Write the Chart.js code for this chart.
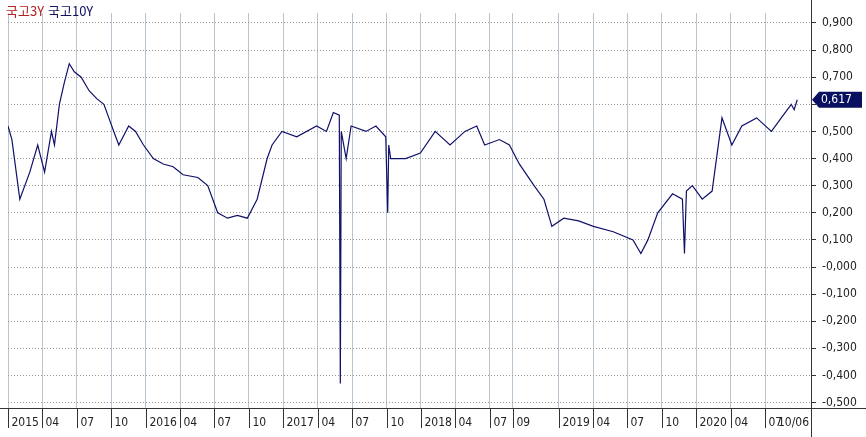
<!DOCTYPE html>
<html><head><meta charset="utf-8">
<script src="https://cdn.jsdelivr.net/npm/chart.js"></script>
<style>body{margin:0;background:#fff}#wrap{width:866px;height:437px}</style>
</head><body><div id="wrap"><canvas id="c"></canvas></div>
<script>
// 월 인덱스 (0 = 2015-01)
const months = [0,0.34,1.03,1.9,2.59,3.19,3.79,4.05,4.48,4.91,5.34,5.78,6.38,7.07,7.76,8.36,8.79,9.22,9.66,10.52,11.12,11.81,12.67,13.53,14.4,15.26,16.55,17.41,18.28,19.14,20,20.86,21.72,22.59,23.02,23.88,25.17,26.9,27.76,28.36,28.88,28.97,29.05,29.48,29.91,31.21,32.07,32.93,33.1,33.19,33.36,34.66,35.95,37.24,38.53,39.83,40.86,41.55,42.84,43.71,44.57,45.86,46.72,47.41,48.45,49.74,51.03,52.76,54.48,55.17,55.78,56.64,57.93,58.79,58.97,59.14,59.66,60.52,61.38,62.24,63.1,63.97,65.26,66.55,67.41,68.28,68.53,68.8];
const yield10 = [0.52,0.47,0.25,0.35,0.45,0.35,0.5,0.45,0.6,0.68,0.75,0.72,0.7,0.65,0.62,0.6,0.55,0.5,0.45,0.52,0.5,0.45,0.4,0.38,0.37,0.34,0.33,0.3,0.2,0.18,0.19,0.18,0.25,0.4,0.45,0.5,0.48,0.52,0.5,0.57,0.56,-0.43,0.5,0.4,0.52,0.5,0.52,0.48,0.2,0.45,0.4,0.4,0.42,0.5,0.45,0.5,0.52,0.45,0.47,0.45,0.38,0.3,0.25,0.15,0.18,0.17,0.15,0.13,0.1,0.05,0.1,0.2,0.27,0.25,0.05,0.28,0.3,0.25,0.28,0.55,0.45,0.52,0.55,0.5,0.55,0.6,0.58,0.617];
const tickMonths = [0,3,6,9,12,15,18,21,24,27,30,33,36,39,42,44,48,51,54,57,60,63,66];
const tickLabels = ['2015','04','07','10','2016','04','07','10','2017','04','07','10','2018','04','07','09','2019','04','07','10','2020','04','07'];
const endLabel = '10/06';
const lastValue = 0.617;

const FONT = '12px "Liberation Sans Narrow", "DejaVu Sans Condensed", "Noto Sans CJK KR"';
const fmt = v => (v <= 0 && v > -0.0005 ? '-' : '') + v.toFixed(3).replace('.', ',');

const overlay = {
  id: 'overlay',
  afterDraw(chart) {
    const ctx = chart.ctx, x = chart.scales.x, y = chart.scales.y, a = chart.chartArea;
    ctx.save();
    ctx.font = '13px "Liberation Sans Narrow", "Noto Sans CJK KR"';
    ctx.textBaseline = 'middle';
    ctx.fillStyle = '#b22222'; ctx.fillText('국고3Y', 6, 11);
    ctx.fillStyle = '#101060'; ctx.fillText('국고10Y', 48, 11);
    ctx.font = FONT;
    // axis lines
    ctx.strokeStyle = '#333'; ctx.lineWidth = 1;
    ctx.beginPath(); ctx.moveTo(0, a.bottom + 0.5); ctx.lineTo(866, a.bottom + 0.5); ctx.stroke();
    ctx.beginPath(); ctx.moveTo(Math.round(a.right) + 0.5, 0); ctx.lineTo(Math.round(a.right) + 0.5, 437); ctx.stroke();
    ctx.fillStyle = '#222'; ctx.textAlign = 'left';
    tickMonths.forEach((m, i) => {
      const px = Math.round(x.getPixelForValue(m)) + 0.5;
      ctx.beginPath(); ctx.moveTo(px, a.bottom); ctx.lineTo(px, a.bottom + 20); ctx.stroke();
      ctx.fillText(tickLabels[i], px + 3, a.bottom + 15);
    });
    ctx.textAlign = 'right'; ctx.fillText(endLabel, a.right - 2, a.bottom + 15);
    // last value tag
    const py = y.getPixelForValue(lastValue);
    ctx.fillStyle = '#0a1060';
    ctx.beginPath();
    ctx.moveTo(a.right + 1, py); ctx.lineTo(a.right + 8, py - 8); ctx.lineTo(862, py - 8);
    ctx.lineTo(862, py + 8); ctx.lineTo(a.right + 8, py + 8); ctx.closePath(); ctx.fill();
    ctx.fillStyle = '#fff'; ctx.textAlign = 'left';
    ctx.fillText(fmt(lastValue), a.right + 10, py);
    ctx.restore();
  }
};

new Chart(document.getElementById('c'), {
  type: 'line',
  data: { datasets: [{ data: months.map((m, i) => ({ x: m, y: yield10[i] })),
    borderColor: '#10106a', borderWidth: 1.2, pointRadius: 0, tension: 0 }] },
  options: {
    responsive: true, maintainAspectRatio: false, animation: false,
    layout: { padding: { left: 8, top: -8, bottom: 29 } },
    plugins: { legend: { display: false }, tooltip: { enabled: false } },
    scales: {
      x: { type: 'linear', min: 0, max: 70,
        afterBuildTicks: s => { s.ticks = tickMonths.map(v => ({ value: v })); },
        ticks: { display: false },
        grid: { color: '#b8c4d0', drawTicks: false },
        border: { display: false } },
      y: { position: 'right', min: -0.52, max: 0.936,
        afterBuildTicks: s => { const t = []; for (let v = -5; v <= 9; v++) t.push({ value: v / 10 }); s.ticks = t; },
        afterFit: s => { s.width = 55; },
        ticks: { callback: v => fmt(v), color: '#222', font: { size: 12, family: '"Liberation Sans Narrow", "DejaVu Sans Condensed"' }, padding: 6 },
        grid: { color: '#999', tickColor: '#333', tickLength: 5 },
        border: { display: false, dash: [1, 2] } }
    }
  },
  plugins: [overlay]
});
</script></body></html>
